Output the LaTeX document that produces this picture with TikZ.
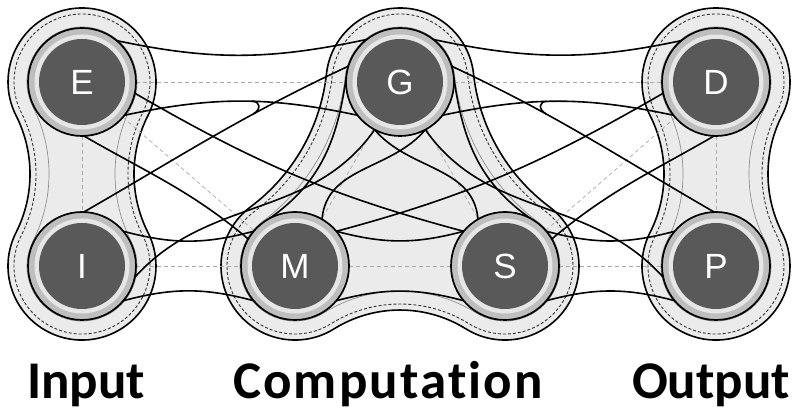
\documentclass[tikz,border=0pt]{standalone}
\usepackage{fontspec}
\newfontfamily\nodefont{Liberation Sans}
\newfontfamily\labfont{Carlito}[Ligatures=NoCommon]
\pgfdeclarelayer{back}
\pgfdeclarelayer{mid}
\pgfsetlayers{back,mid,main}
\definecolor{blobfill}{HTML}{EBEBEB}
\definecolor{ringc}{HTML}{BEBEBE}
\definecolor{ringl}{HTML}{E6E6E6}
\definecolor{diskc}{HTML}{595959}
\definecolor{dashc}{HTML}{AAAAAA}
\definecolor{thinc}{HTML}{8F8F8F}
% input/output blob: #1 top centre, #2 r, #3 waist radius, #4 style
\newcommand\sideblob[4]{\path[#4] ([shift={(#1)}]-26.9:#2pt) arc[start angle=-26.9,end angle=206.9,radius=#2pt] arc[start angle=26.9,end angle=-26.9,radius=#3pt] arc[start angle=153.1,end angle=386.9,radius=#2pt] arc[start angle=206.9,end angle=153.1,radius=#3pt] -- cycle;}
% computation blob: #1 r, #2 side waist radius, #3 bottom waist radius, #4 style
\newcommand\compblob[4]{\path[#4] ([shift={(cG)}]6.24:#1pt) arc[start angle=6.24,end angle=173.76,radius=#1pt] arc[start angle=-6.24,end angle=-53.18,radius=#2pt] arc[start angle=126.82,end angle=301.89,radius=#1pt] arc[start angle=121.89,end angle=58.11,radius=#3pt] arc[start angle=238.11,end angle=413.18,radius=#1pt] arc[start angle=233.18,end angle=186.24,radius=#2pt] -- cycle;}
\tikzset{
  nd/.style={circle, minimum size=108pt, inner sep=0pt, outer sep=0pt, draw=black, line width=1.7pt, fill=ringc, text=white, font=\nodefont\fontsize{35}{35}\selectfont,
    path picture={\fill[ringl] (path picture bounding box.center) circle[radius=47.5pt];
                  \fill[diskc] (path picture bounding box.center) circle[radius=43pt];}},
  lab/.style={anchor=base, font=\labfont\bfseries\fontsize{53}{53}\selectfont, text=black},
  blobout/.style={fill=blobfill, draw=black, line width=1.6pt},
  blobdash/.style={draw=black!80, line width=0.9pt, dash pattern=on 3pt off 2pt},
  blobthin/.style={draw=thinc, line width=0.7pt},
  cl/.style={draw=dashc, line width=0.7pt, dash pattern=on 4pt off 3pt},
  cv/.style={draw=black, line width=1.6pt},
}
\begin{document}
\begin{tikzpicture}[x=1pt, y=1pt]
\useasboundingbox (0,0) rectangle (794,411);
\coordinate (cE) at (82,329);
\coordinate (cD) at (716,329);
\coordinate (cG) at (400,329);
% nodes
\node[nd] (E) at (82,329) {E};
\node[nd] (I) at (82,145) {I};
\node[nd] (G) at (400,329) {G};
\node[nd] (M) at (295,145) {M};
\node[nd] (S) at (505,145) {S};
\node[nd] (D) at (716,329) {D};
\node[nd] (P) at (716,145) {P};
% labels
\node[lab] (lin) at (86,12) {Input};
\node[lab] (lcomp) at (388,12) {\addfontfeature{LetterSpace=4}Computation};
\node[lab] (lout) at (711,12) {Output};
\begin{pgfonlayer}{back}
  \fill[white] (0,0) rectangle (794,411);
  \sideblob{cE}{74}{129.4}{blobout}
  \sideblob{cE}{68}{135.4}{blobdash}
  \sideblob{cE}{55}{148.4}{blobthin}
  \sideblob{cD}{74}{129.4}{blobout}
  \sideblob{cD}{68}{135.4}{blobdash}
  \sideblob{cD}{55}{148.4}{blobthin}
  \compblob{74}{192}{124.75}{blobout}
  \compblob{68}{198}{130.75}{blobdash}
  \compblob{55}{211}{143.75}{blobthin}
\end{pgfonlayer}
\begin{pgfonlayer}{mid}
  % dashed centre lines
  \draw[cl] (E) -- (G);
  \draw[cl] (G) -- (D);
  \draw[cl] (I) -- (M);
  \draw[cl] (M) -- (S);
  \draw[cl] (S) -- (P);
  \draw[cl] (E) -- (I);
  \draw[cl] (D) -- (P);
  \draw[cl] (G) -- (M);
  \draw[cl] (G) -- (S);
  \draw[cl] (E) -- (M);
  \draw[cl] (D) -- (S);
  % left side connectors
  \draw[cv] (E.50) to[out=-12, in=192] (G.128);
  \draw[cv] (E.-38) to[out=12, in=168] coordinate[pos=0.55] (k1) (G.-142);
  \draw[cv] (I.88) to[out=30, in=205] coordinate[pos=0.66] (k2) (G.163);
  \draw[cv] (k1) to[out=0, in=30, looseness=1.8] (k2);
  \draw[cv] (I.-12) to[out=48, in=235] (G.-118);
  \draw[cv] (E.-88) to[out=-30, in=140] (M.150);
  \draw[cv] (E.-12) to[out=-30, in=165] (S.140);
  \draw[cv] (I.40) to[out=-15, in=195] (M.140);
  \draw[cv] (I.-40) to[out=15, in=165] (M.-140);
  % right side connectors
  \draw[cv] (D.130) to[out=192, in=-12] (G.52);
  \draw[cv] (D.218) to[out=168, in=12] coordinate[pos=0.55] (k3) (G.-38);
  \draw[cv] (P.92) to[out=150, in=-25] coordinate[pos=0.66] (k4) (G.17);
  \draw[cv] (k3) to[out=180, in=150, looseness=1.8] (k4);
  \draw[cv] (P.192) to[out=132, in=-55] (G.-62);
  \draw[cv] (D.268) to[out=210, in=40] (S.30);
  \draw[cv] (D.192) to[out=210, in=15] (M.40);
  \draw[cv] (P.140) to[out=195, in=-15] (S.40);
  \draw[cv] (P.220) to[out=165, in=15] (S.-40);
  % computation connectors
  \draw[cv] (M.40) to[out=-15, in=195] (S.140);
  \draw[cv] (M.-40) to[out=15, in=165] (S.-140);
  \draw[cv] (M.60) to[out=85, in=230] (G.-62);
  \draw[cv] (S.120) to[out=95, in=-50] (G.-118);
  \draw[cv] (G.175) to[out=262, in=35] (M.118);
  \draw[cv] (G.5) to[out=-82, in=145] (S.62);
\end{pgfonlayer}
\end{tikzpicture}
\end{document}
